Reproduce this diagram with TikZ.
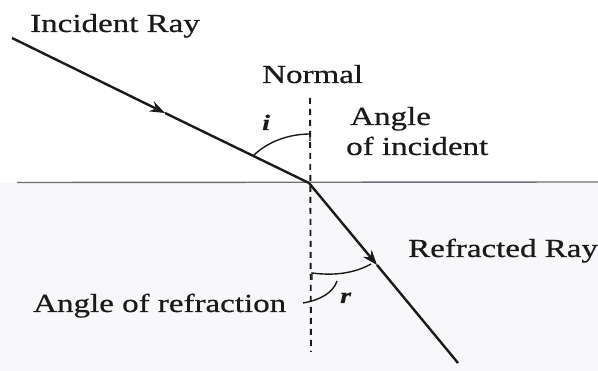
\documentclass[tikz,border=0pt]{standalone}
\usepackage{fontspec}
\setmainfont{Liberation Serif}[FakeStretch=1.27,FakeBold=0.6]
\usetikzlibrary{arrows.meta}
\definecolor{ink}{HTML}{1A1A1A}
\definecolor{surf}{HTML}{6E6E76}
\definecolor{lowbg}{HTML}{F8F8FA}
\tikzset{
  ray/.style={draw=ink, line width=2.4pt},
  normalline/.style={draw=ink, line width=1.9pt, dash pattern=on 6pt off 5pt},
  surface/.style={draw=surf, line width=1.4pt},
  anglearc/.style={draw=ink, line width=1.4pt},
  lbl/.style={font=\fontsize{26}{28}\selectfont, text=ink, inner sep=0pt, anchor=base west},
  sym/.style={font=\fontsize{22}{24}\selectfont\bfseries\itshape, text=ink, inner sep=0pt, anchor=base west},
  raytip/.style={-{Stealth[length=15pt,width=11pt]}}
}
\begin{document}
\begin{tikzpicture}[x=1pt,y=-1pt]
\useasboundingbox (0,0) rectangle (598,371);
\fill[lowbg] (0,183) rectangle (598,371);
% surface
\coordinate (S1) at (17,182.5);
\coordinate (S2) at (598,182);
\draw[surface] (S1) -- (S2);
% normal
\coordinate (NT) at (310,98);
\coordinate (NB) at (311,352);
\draw[normalline] (NT) -- (NB);
% rays
\coordinate (A) at (12,38);
\coordinate (MA) at (165,113);
\coordinate (O) at (309,183);
\coordinate (MR) at (377,265);
\coordinate (B) at (458,363);
\draw[ray, raytip] (A) -- (MA);
\draw[ray] (MA) -- (O);
\draw[ray, raytip] (O) -- (MR);
\draw[ray] (MR) -- (B);
% angle i
\coordinate (I1) at (253,156);
\coordinate (I2) at (310,134);
\coordinate (I3) at (310,141);
\draw[anglearc] (I1) .. controls (268,141) and (290,134) .. (I2) -- (I3);
% angle r
\coordinate (R1) at (312,280);
\coordinate (R2) at (312,273);
\coordinate (R3) at (371,264);
\draw[anglearc] (R1) -- (R2) .. controls (335,276) and (355,273) .. (R3);
% leader
\coordinate (L1) at (337,281);
\coordinate (L2) at (303,303);
\draw[anglearc] (L1) .. controls (333,293) and (320,300) .. (L2);
% labels
\node[lbl] (tInc) at (30,32) {Incident Ray};
\node[lbl] (tNorm) at (262,83) {Normal};
\node[sym] (ti) at (262,130) {i};
\node[lbl] (tAng) at (350,125) {Angle};
\node[lbl] (tOfInc) at (346,155) {of incident};
\node[lbl] (tRefr) at (408,257) {Refracted Ray};
\node[lbl] (tAor) at (33,312) {Angle of refraction};
\node[sym] (tr) at (340,303) {r};
\end{tikzpicture}
\end{document}
